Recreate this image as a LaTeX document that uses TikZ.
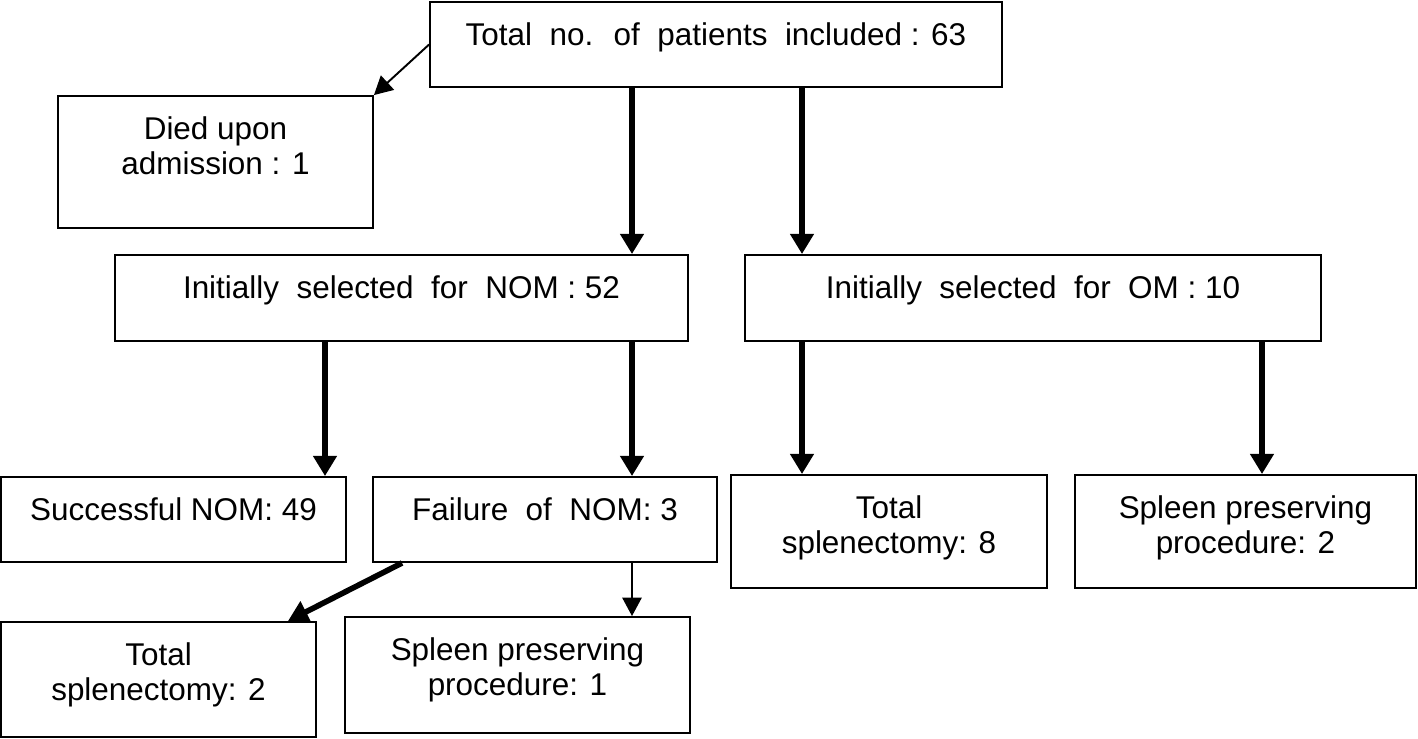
\documentclass[tikz,border=0pt]{standalone}
\usepackage{fontspec}
\setmainfont{Liberation Sans}
\usetikzlibrary{arrows.meta}

\begin{document}
\begin{tikzpicture}[x=0.02cm, y=-0.02cm,
  pbox/.style={draw, line width=1.1pt, inner sep=0pt},
  txt/.style={anchor=north, align=center, inner sep=0pt, label distance=-0.43cm,
    font=\fontsize{17.9}{19.8}\selectfont},
  flow/.style={line width=3.2pt, -{Triangle[width=13pt,length=11.5pt]}},
  thinflow/.style={line width=1.1pt, -{Triangle[width=11pt,length=10.5pt]}}]
\useasboundingbox (0,0) rectangle (1418,738);
\coordinate (colA) at (325,0);
\coordinate (colB) at (632,0);
\coordinate (colC) at (802,0);
\coordinate (colD) at (1262,0);
\node[pbox, minimum width=11.44cm, minimum height=1.70cm, label={[txt]north:Total~ no.~ of~ patients~ included : 63}] (top) at (716,44.5) {};
\node[pbox, minimum width=6.30cm, minimum height=2.64cm, label={[txt]north:Died upon\\admission : 1}] (died) at (215.5,162) {};
\node[pbox, minimum width=11.46cm, minimum height=1.72cm, label={[txt]north:Initially~ selected~ for~ NOM : 52}] (nom) at (401.5,298) {};
\node[pbox, minimum width=11.52cm, minimum height=1.72cm, label={[txt]north:Initially~ selected~ for~ OM : 10}] (om) at (1033,298) {};
\node[pbox, minimum width=6.90cm, minimum height=1.70cm, label={[txt]north:Successful NOM: 49}] (succ) at (173.5,519.5) {};
\node[pbox, minimum width=6.88cm, minimum height=1.70cm, label={[txt]north:Failure~ of~ NOM: 3}] (fail) at (545,519.5) {};
\node[pbox, minimum width=6.32cm, minimum height=2.26cm, label={[txt]north:Total\\splenectomy: 8}] (ts8) at (889,531.5) {};
\node[pbox, minimum width=6.82cm, minimum height=2.26cm, label={[txt]north:Spleen preserving\\procedure: 2}] (sp2) at (1245.5,531.5) {};
\node[pbox, minimum width=6.30cm, minimum height=2.30cm, label={[txt]north:Total\\splenectomy: 2}] (ts2) at (158.5,679.5) {};
\node[pbox, minimum width=6.90cm, minimum height=2.32cm, label={[txt]north:Spleen preserving\\procedure: 1}] (sp1) at (517.5,675) {};
\draw[thinflow] (top.west) -- (died.north east);
\draw[flow] (top.south -| colB) -- (nom.north -| colB);
\draw[flow] (top.south -| colC) -- (om.north -| colC);
\draw[flow] (nom.south -| colA) -- (succ.north -| colA);
\draw[flow] (nom.south -| colB) -- (fail.north -| colB);
\draw[flow] (om.south -| colC) -- (ts8.north -| colC);
\draw[flow] (om.south -| colD) -- (sp2.north -| colD);
\draw[flow] ([xshift=0.6cm]fail.south west) -- ([xshift=-0.58cm]ts2.north east);
\draw[thinflow] (fail.south -| colB) -- (sp1.north -| colB);
\end{tikzpicture}
\end{document}
